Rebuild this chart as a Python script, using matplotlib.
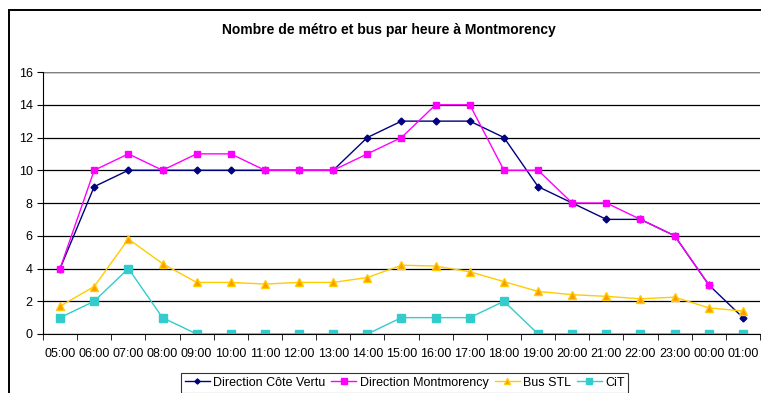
import numpy as np
import matplotlib.pyplot as plt
from matplotlib.patches import Rectangle

plt.rcParams["font.family"] = ["Liberation Sans", "DejaVu Sans"]

hours = ["05:00", "06:00", "07:00", "08:00", "09:00", "10:00", "11:00",
         "12:00", "13:00", "14:00", "15:00", "16:00", "17:00", "18:00",
         "19:00", "20:00", "21:00", "22:00", "23:00", "00:00", "01:00"]

cote_vertu = [4, 9, 10, 10, 10, 10, 10, 10, 10, 12, 13, 13, 13, 12,
              9, 8, 7, 7, 6, 3, 1]
montmorency = [4, 10, 11, 10, 11, 11, 10, 10, 10, 11, 12, 14, 14, 10,
               10, 8, 8, 7, 6, 3, np.nan]
bus_stl = [1.7, 2.9, 5.8, 4.3, 3.15, 3.15, 3.05, 3.15, 3.15, 3.45, 4.2,
           4.15, 3.8, 3.2, 2.6, 2.4, 2.3, 2.15, 2.25, 1.6, 1.4]
cit = [1, 2, 4, 1, 0, 0, 0, 0, 0, 0, 1, 1, 1, 2, 0, 0, 0, 0, 0, 0, 0]

W, H = 761, 393
fig = plt.figure(figsize=(W / 100, H / 100), dpi=100)

# chart frame, runs past the right and bottom edges
fig.add_artist(Rectangle((9 / W, -0.1), 1.2, 1 - 10 / H + 0.1,
                         transform=fig.transFigure, fill=False,
                         edgecolor="black", linewidth=1.4))

ax = fig.add_axes([43 / W, 1 - 334 / H, (760 - 43) / W, (334 - 72) / H])
x = np.arange(len(hours))

ax.plot(x, cote_vertu, color="#000080", marker="D", markersize=3.5,
        linewidth=1, label="Direction Côte Vertu")
ax.plot(x, montmorency, color="#FF00FF", marker="s", markersize=5,
        linewidth=1, label="Direction Montmorency")
ax.plot(x, bus_stl, color="#FFCC00", marker="^", markersize=6,
        markerfacecolor="#FF9900", markeredgecolor="#FFCC00",
        linewidth=1, label="Bus STL")
ax.plot(x, cit, color="#33CCCC", marker="s", markersize=6,
        linewidth=1, label="CiT")

ax.set_xlim(-0.5, len(hours) - 0.5)
ax.set_ylim(0, 16)
ax.set_yticks(range(0, 17, 2))
ax.set_xticks(x)
ax.set_xticklabels(hours)
ax.set_xticks(np.arange(-0.5, len(hours), 1), minor=True)
ax.tick_params(axis="x", which="major", length=0, pad=10, labelsize=9)
ax.tick_params(axis="x", which="minor", length=4, direction="out")
ax.tick_params(axis="y", length=4, direction="out", labelsize=9)
ax.grid(axis="y", color="black", linewidth=0.9)
ax.set_axisbelow(True)
for side in ("top", "right"):
    ax.spines[side].set_visible(False)
ax.axhline(16, color="#808080", linewidth=1)

fig.text(389 / W, 1 - 30 / H, "Nombre de métro et bus par heure à Montmorency",
         ha="center", va="center", fontsize=10, fontweight="bold")

handles, labels = ax.get_legend_handles_labels()
leg = fig.legend(handles, labels, loc="upper left", ncol=4,
                 bbox_to_anchor=(181 / W, 1 - 373 / H), fontsize=9,
                 frameon=True, fancybox=False, edgecolor="black",
                 handlelength=2, handletextpad=0.25, columnspacing=0.5,
                 borderpad=0.3, borderaxespad=0, markerscale=0.75)
leg.get_frame().set_linewidth(0.8)

fig.savefig("out.png", dpi=100)
